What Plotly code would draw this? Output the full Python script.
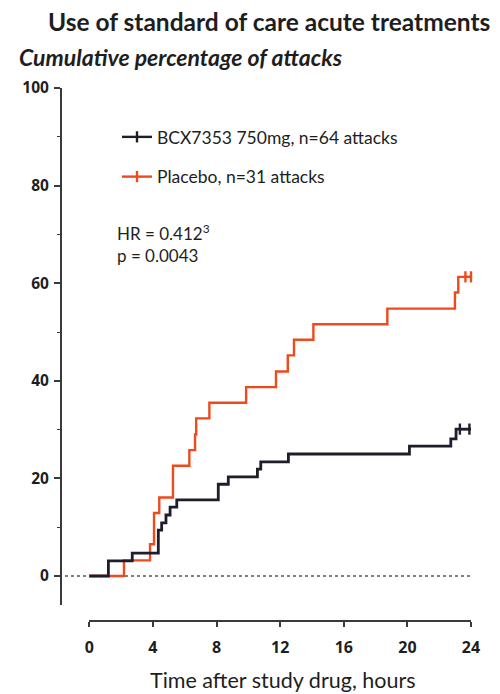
import plotly.graph_objects as go

# ---- data ----
bcx_hours = [0, 1.2, 2.7, 4.34, 4.55, 4.82, 5.08, 5.5, 8.11, 8.74, 10.57, 10.78, 12.52, 20.13, 22.73, 23.06, 24.0]
bcx_pct   = [0, 3.1, 4.7, 9.4, 10.9, 12.5, 14.1, 15.6, 18.8, 20.3, 21.9, 23.4, 25.0, 26.6, 28.1, 30.1, 30.1]
bcx_censor_hours = [23.3, 23.9]
bcx_censor_pct = [30.1, 30.1]

pla_hours = [0, 2.18, 3.82, 4.07, 4.40, 5.26, 6.29, 6.65, 6.72, 7.55, 9.86, 11.74, 12.48, 12.87, 14.09, 18.74, 22.99, 23.2, 24.0]
pla_pct   = [0, 3.2, 6.5, 12.9, 16.1, 22.6, 25.8, 29.0, 32.3, 35.5, 38.7, 41.9, 45.2, 48.4, 51.6, 54.8, 58.1, 61.3, 61.3]
pla_censor_hours = [23.65, 24.0]
pla_censor_pct = [61.3, 61.3]

x_ticks = [0, 4, 8, 12, 16, 20, 24]
y_ticks = [0, 20, 40, 60, 80, 100]

BLACK = "#1f1d2b"
ORANGE = "#ee4a1c"
TXT = "#1e1e1e"
FONT = "Lato"
TICKFONT = "Open Sans"

W, H = 500, 694
OFF = 8.0  # page offset of the figure inside the browser window
def px_x(p): return (p - OFF) / W
def px_y(p): return 1 - (p - OFF) / H

fig = go.Figure()

fig.add_trace(go.Scatter(x=pla_hours, y=pla_pct, mode="lines", line=dict(color=ORANGE, width=2.4, shape="hv"),
                         legendgroup="p", showlegend=False, hoverinfo="skip"))
fig.add_trace(go.Scatter(x=bcx_hours, y=bcx_pct, mode="lines", line=dict(color=BLACK, width=2.8, shape="hv"),
                         legendgroup="b", showlegend=False, hoverinfo="skip"))
fig.add_trace(go.Scatter(x=bcx_censor_hours, y=bcx_censor_pct, mode="lines+markers",
                         line=dict(color=BLACK, width=2.4),
                         marker=dict(symbol="line-ns", size=8, line=dict(color=BLACK, width=2.4)),
                         name="BCX7353 750mg, n=64 attacks", legendgroup="b", legendrank=1, cliponaxis=False))
fig.add_trace(go.Scatter(x=pla_censor_hours, y=pla_censor_pct, mode="lines+markers",
                         line=dict(color=ORANGE, width=2.4),
                         marker=dict(symbol="line-ns", size=8, line=dict(color=ORANGE, width=2.4)),
                         name="Placebo, n=31 attacks", legendgroup="p", legendrank=2, cliponaxis=False))
# invisible trace to bind the bottom time axis
fig.add_trace(go.Scatter(x=[x_ticks[0], x_ticks[-1]], y=[None, None], xaxis="x2", yaxis="y",
                         mode="markers", showlegend=False, hoverinfo="skip"))

x0_px, x24_px = 89.3, 471.0
scale = (x24_px - x0_px) / 24.0
left_px = 62.0
xmin = (left_px - x0_px) / scale
xmax = 24.2
right_px = x0_px + xmax * scale

y0_px, y100_px = 576.0, 88.0
yscale = (y0_px - y100_px) / 100.0
bottom_px = 605.0
ymin = -(bottom_px - y0_px) / yscale

fig.update_layout(
    width=W, height=H,
    margin=dict(l=0, r=0, t=0, b=0, autoexpand=False),
    paper_bgcolor="white", plot_bgcolor="rgba(0,0,0,0)",
    font=dict(family=FONT, color=TXT),
    showlegend=True,
    legend=dict(x=px_x(117), y=px_y(119), xanchor="left", yanchor="top",
                font=dict(family=FONT, size=17.5, color=TXT), tracegroupgap=14,
                bgcolor="rgba(0,0,0,0)", itemwidth=30, traceorder="grouped"),
    xaxis=dict(domain=[px_x(left_px), px_x(right_px)], range=[xmin, xmax], visible=False,
               fixedrange=True, automargin=False),
    xaxis2=dict(domain=[px_x(x0_px), px_x(x24_px)], range=[0, 24], anchor="free",
                position=px_y(621), showline=True, linecolor="#3a3a3a", linewidth=2,
                ticks="outside", ticklen=5, tickwidth=2, tickcolor="#3a3a3a",
                tickvals=x_ticks, ticktext=[str(v) for v in x_ticks],
                tickfont=dict(family=TICKFONT, size=16, color=TXT, weight="bold"),
                showgrid=False, zeroline=False, ticklabelstandoff=7, automargin=False),
    yaxis=dict(domain=[px_y(bottom_px), px_y(y100_px)], range=[ymin, 100], showline=True,
               linecolor="#3a3a3a", linewidth=2, ticks="outside", ticklen=6, tickwidth=1.5,
               tickcolor="#3a3a3a", tickvals=y_ticks, ticktext=[str(v) for v in y_ticks],
               tickfont=dict(family=TICKFONT, size=15.5, color=TXT, weight="bold"),
               minor=dict(tickvals=[10, 30, 50, 70, 90], ticks="outside", ticklen=3, tickwidth=1.2, tickcolor="#3a3a3a"),
               showgrid=False, zeroline=False, ticklabelstandoff=2, automargin=False),
    shapes=[dict(type="line", xref="x", yref="y", x0=-1.53, x1=24.0, y0=0, y1=0,
                 line=dict(color="#808080", width=2, dash="dot"), layer="below")],
    annotations=[
        dict(text="Use of standard of care acute treatments", x=px_x(269), y=1.0 + 3.0 / H, xref="paper", yref="paper",
             showarrow=False, xanchor="center", yanchor="top",
             font=dict(family=FONT, size=24.5, color=TXT, weight="bold")),
        dict(text="<i>Cumulative percentage of attacks</i>", x=px_x(17), y=px_y(57), xref="paper", yref="paper",
             showarrow=False, xanchor="left", yanchor="middle",
             font=dict(family=FONT, size=23, color=TXT, weight="bold")),
        dict(text="HR = 0.412<sup>3</sup>", x=px_x(115), y=px_y(232), xref="paper", yref="paper",
             showarrow=False, xanchor="left", yanchor="middle",
             font=dict(family=FONT, size=17, color=TXT)),
        dict(text="p = 0.0043", x=px_x(115), y=px_y(255), xref="paper", yref="paper",
             showarrow=False, xanchor="left", yanchor="middle",
             font=dict(family=FONT, size=17, color=TXT)),
        dict(text="Time after study drug, hours", x=px_x(283), y=px_y(680), xref="paper", yref="paper",
             showarrow=False, xanchor="center", yanchor="middle",
             font=dict(family=FONT, size=21.5, color=TXT)),
    ],
)

fig.write_html("out.html")
